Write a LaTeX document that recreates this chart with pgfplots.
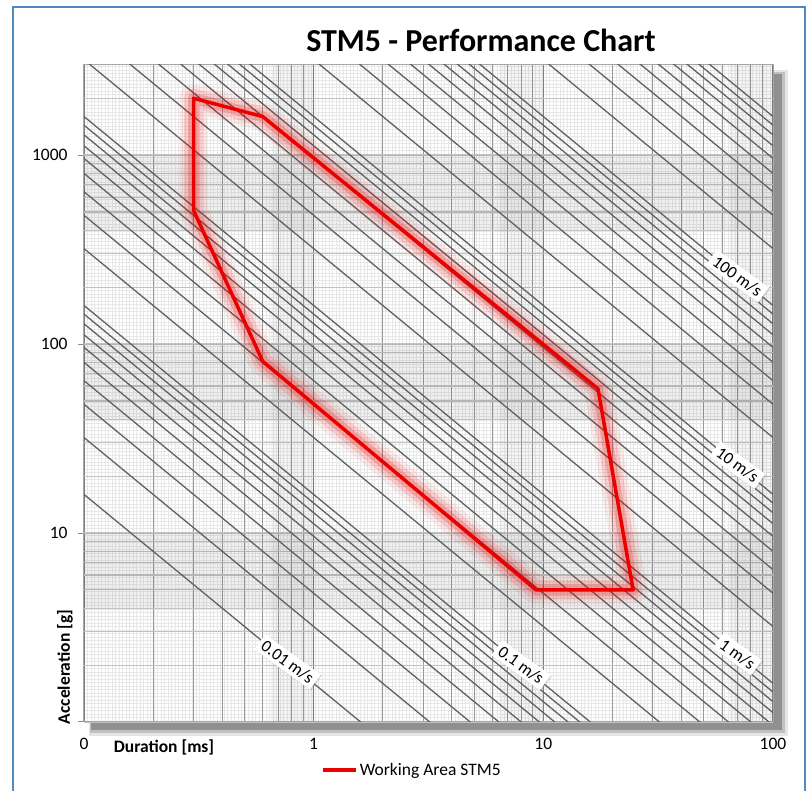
\documentclass[border=0pt]{standalone}
\usepackage{fontspec}
\setmainfont{Carlito}
\usepackage{pgfplots}
\pgfplotsset{compat=1.18}
\usepackage{pgfplotstable}
\usetikzlibrary{shadows}
\definecolor{bordblue}{RGB}{84,134,194}
\definecolor{stmred}{RGB}{235,0,0}
\newcommand\fs{\fontsize{17.5bp}{21bp}\selectfont}
\newcommand\fl{\fontsize{17bp}{20bp}\selectfont}
\newcommand\ft{\fontsize{32bp}{38bp}\selectfont\bfseries}

% constant-velocity lines (half-sine: v = 2/pi * a * t), endpoints at t = 0.1 ms and t = 100 ms
\pgfplotstableread[row sep=\\]{
t a\\
0.1 16.01\\ 100 0.01601\\ nan nan\\
0.1 32.02\\ 100 0.03202\\ nan nan\\
0.1 48.03\\ 100 0.04803\\ nan nan\\
0.1 64.04\\ 100 0.06404\\ nan nan\\
0.1 80.05\\ 100 0.08005\\ nan nan\\
0.1 96.06\\ 100 0.09606\\ nan nan\\
0.1 112.07\\ 100 0.11207\\ nan nan\\
0.1 128.08\\ 100 0.12808\\ nan nan\\
0.1 144.09\\ 100 0.14409\\ nan nan\\
0.1 160.1\\ 100 0.1601\\ nan nan\\
0.1 320.2\\ 100 0.3202\\ nan nan\\
0.1 480.3\\ 100 0.4803\\ nan nan\\
0.1 640.4\\ 100 0.6404\\ nan nan\\
0.1 800.5\\ 100 0.8005\\ nan nan\\
0.1 960.6\\ 100 0.9606\\ nan nan\\
0.1 1120.7\\ 100 1.1207\\ nan nan\\
0.1 1280.8\\ 100 1.2808\\ nan nan\\
0.1 1440.9\\ 100 1.4409\\ nan nan\\
0.1 1601\\ 100 1.601\\ nan nan\\
0.1 3202\\ 100 3.202\\ nan nan\\
0.1 4803\\ 100 4.803\\ nan nan\\
0.1 6404\\ 100 6.404\\ nan nan\\
0.1 8005\\ 100 8.005\\ nan nan\\
0.1 9606\\ 100 9.606\\ nan nan\\
0.1 11207\\ 100 11.207\\ nan nan\\
0.1 12808\\ 100 12.808\\ nan nan\\
0.1 14409\\ 100 14.409\\ nan nan\\
0.1 16010\\ 100 16.01\\ nan nan\\
0.1 32020\\ 100 32.02\\ nan nan\\
0.1 48030\\ 100 48.03\\ nan nan\\
0.1 64040\\ 100 64.04\\ nan nan\\
0.1 80050\\ 100 80.05\\ nan nan\\
0.1 96060\\ 100 96.06\\ nan nan\\
0.1 112070\\ 100 112.07\\ nan nan\\
0.1 128080\\ 100 128.08\\ nan nan\\
0.1 144090\\ 100 144.09\\ nan nan\\
0.1 160100\\ 100 160.1\\ nan nan\\
0.1 320200\\ 100 320.2\\ nan nan\\
0.1 480300\\ 100 480.3\\ nan nan\\
0.1 640400\\ 100 640.4\\ nan nan\\
0.1 800500\\ 100 800.5\\ nan nan\\
0.1 960600\\ 100 960.6\\ nan nan\\
0.1 1120700\\ 100 1120.7\\ nan nan\\
0.1 1280800\\ 100 1280.8\\ nan nan\\
0.1 1440900\\ 100 1440.9\\ nan nan\\
0.1 1601000\\ 100 1601\\
}\vlines

\begin{document}
\begin{tikzpicture}
\useasboundingbox (0,0) rectangle (812bp,791bp);
% outer frame
\draw[bordblue, line width=2.5bp] (13bp,-2bp) -- (13bp,784bp) -- (805bp,784bp) -- (805bp,-2bp);
% drop shadow of plot area
\fill[black,opacity=0.10] (89bp,55bp) rectangle (788bp,721bp);
\fill[black,opacity=0.16] (90bp,58bp) rectangle (785bp,719bp);
\fill[black,opacity=0.25] (91bp,61bp) rectangle (782bp,717bp);
% plot area with paper texture
\fill[white] (84bp,69bp) rectangle (773bp,726bp);
\draw[black!9, line width=0.4bp, step=3.5bp] (84bp,69bp) grid (773bp,726bp);

\begin{axis}[
  at={(84bp,69bp)}, anchor=south west,
  scale only axis, width=689bp, height=657bp,
  xmode=log, ymode=log,
  xmin=0.1, xmax=100, ymin=1, ymax=3000,
  xtick={0.1,1,10,100}, xticklabels={0,1,10,100},
  ytick={1,10,100,1000}, yticklabels={,10,100,1000},
  minor xtick={0.2,0.3,0.4,0.5,0.6,0.7,0.8,0.9,2,3,4,5,6,7,8,9,20,30,40,50,60,70,80,90},
  minor ytick={2,3,4,5,6,7,8,9,20,30,40,50,60,70,80,90,200,300,400,500,600,700,800,900,2000},
  grid=both,
  major x grid style={black!50, line width=1.2bp},
  minor x grid style={black!40, line width=0.9bp},
  major y grid style={black!24, line width=2.2bp},
  minor y grid style={black!24, line width=1.1bp},
  axis line style={black!35, line width=1bp},
  tick align=outside, major tick length=6bp, minor tick length=0pt,
  xtick style={draw=none},
  ytick style={black!45, line width=1bp},
  ticklabel style={font=\fs},
  xticklabel style={yshift=-7bp},
  yticklabel style={xshift=-7bp},
  /pgf/number format/assume math mode=true,
  unbounded coords=jump,
  legend style={draw=none, fill=none, at={(0.476,-0.073)}, anchor=center, font=\fs},
  legend image code/.code={\draw[#1] (0bp,0bp) -- (33bp,0bp);},
]
% shaded bands
\fill[black, fill opacity=0.06] (axis cs:0.1,4) rectangle (axis cs:100,10);
\fill[black, fill opacity=0.06] (axis cs:0.1,40) rectangle (axis cs:100,100);
\fill[black, fill opacity=0.06] (axis cs:0.1,400) rectangle (axis cs:100,1000);
\fill[black, fill opacity=0.04] (axis cs:0.65,1) rectangle (axis cs:1,3000);
\fill[black, fill opacity=0.04] (axis cs:6.5,1) rectangle (axis cs:10,3000);
\fill[black, fill opacity=0.04] (axis cs:65,1) rectangle (axis cs:100,3000);

\addplot[black!62, line width=1.3bp, forget plot] table[x=t, y=a] {\vlines};

% anchor points of the velocity labels
\coordinate (L1) at (axis cs:0.77,2.08);
\coordinate (L2) at (axis cs:8,2.0);
\coordinate (L3) at (axis cs:70,2.29);
\coordinate (L4) at (axis cs:70,22.9);
\coordinate (L5) at (axis cs:70,229);

% working area with glow
\addplot[stmred, line width=28bp, opacity=0.07, line join=round, forget plot]
  coordinates {(0.3,2000) (0.6,1600) (17.3,58) (24.6,5) (9.3,5) (0.6,81) (0.3,510)} --cycle;
\addplot[stmred, line width=19bp, opacity=0.12, line join=round, forget plot]
  coordinates {(0.3,2000) (0.6,1600) (17.3,58) (24.6,5) (9.3,5) (0.6,81) (0.3,510)} --cycle;
\addplot[stmred, line width=11bp, opacity=0.2, line join=round, forget plot]
  coordinates {(0.3,2000) (0.6,1600) (17.3,58) (24.6,5) (9.3,5) (0.6,81) (0.3,510)} --cycle;
\addplot[stmred, line width=3.5bp, line join=round]
  coordinates {(0.3,2000) (0.6,1600) (17.3,58) (24.6,5) (9.3,5) (0.6,81) (0.3,510)} --cycle;
\addlegendentry{Working Area STM5}
\end{axis}

\begin{scope}[every node/.style={fill=white, rotate=-36, font=\fl, inner xsep=4bp, inner ysep=3bp,
    drop shadow={shadow xshift=1.2bp, shadow yshift=-1.2bp, opacity=0.25}}]
\node at (L1) {0.01 m/s};
\node at (L2) {0.1 m/s};
\node at (L3) {1 m/s};
\node at (L4) {10 m/s};
\node at (L5) {100 m/s};
\end{scope}

\node[font=\ft] at (481bp,751bp) {STM5 - Performance Chart};
\node[font=\fs\bfseries] at (164bp,44bp) {Duration [ms]};
\node[font=\fs\bfseries, rotate=90] at (65bp,124bp) {Acceleration [g]};
\end{tikzpicture}
\end{document}
